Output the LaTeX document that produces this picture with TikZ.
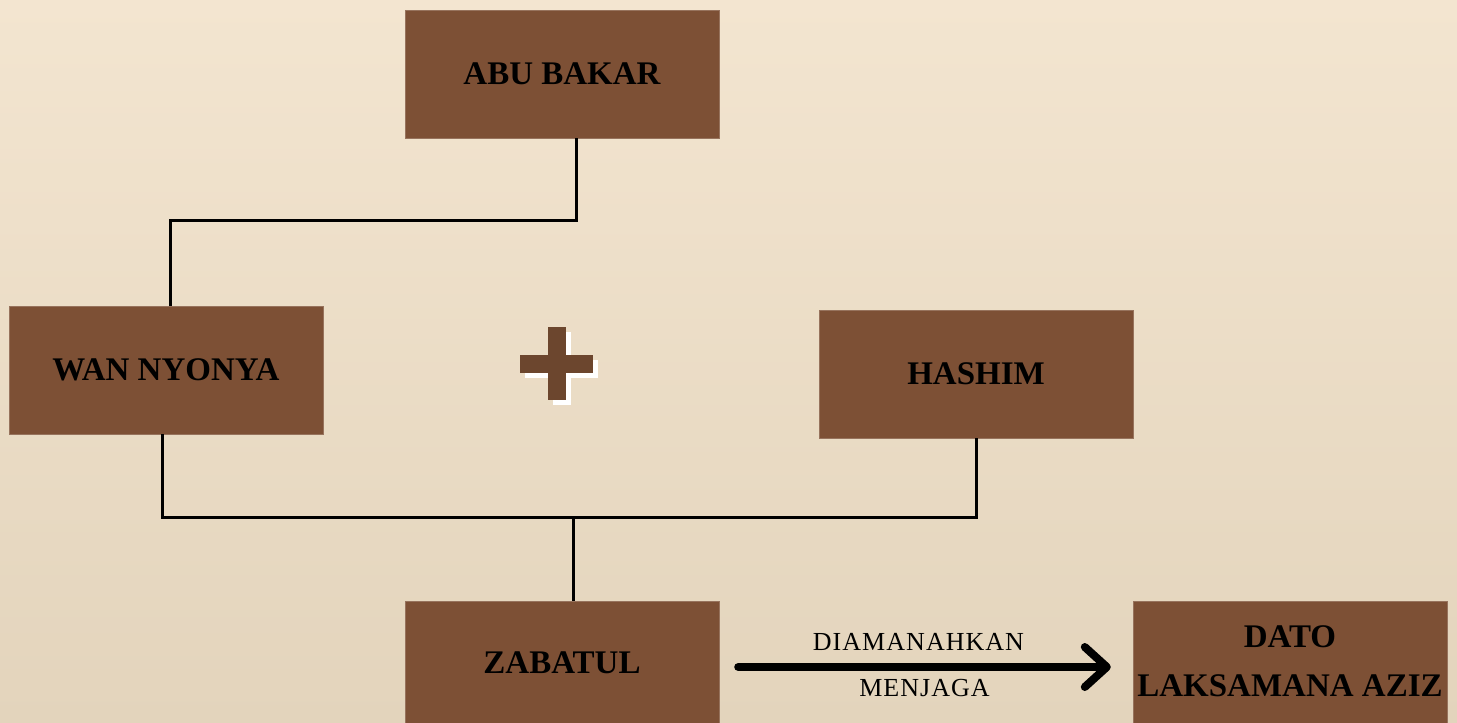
\documentclass[tikz,border=0pt]{standalone}
\usepackage{fontspec}
\setmainfont{Liberation Serif}
\usetikzlibrary{arrows.meta}

\definecolor{fondoarriba}{RGB}{243,229,208}
\definecolor{fondoabajo}{RGB}{227,212,188}
\definecolor{caja}{RGB}{125,80,53}
\definecolor{cruz}{RGB}{108,70,46}

\tikzset{
  persona/.style={fill=caja, draw=caja!80!white, minimum width=314, minimum height=128,
    font=\bfseries\fontsize{33}{36}\selectfont, align=center, inner sep=0pt},
  rama/.style={line width=3pt, black},
  flecha/.style={line width=8pt, line cap=round,
    -{Straight Barb[length=22pt, width=40pt, line cap=round, line join=round]}},
  etiqueta/.style={font=\addfontfeatures{LetterSpace=4}\fontsize{26}{30}\selectfont, inner sep=6pt}
}

\begin{document}
\begin{tikzpicture}[x=1pt, y=-1pt]
			% Fondo
			\useasboundingbox (0,0) rectangle (1457,723);
			\shade[top color=fondoarriba, bottom color=fondoabajo] (0,0) rectangle (1457,723);

			% Dibujar las cajas
			\node[persona] (abu) at (562,74) {ABU BAKAR};
			\node[persona] (wan) at (166,370) {WAN NYONYA};
			\node[persona] (hashim) at (976,374) {HASHIM};
			\node[persona] (zabatul) at (562,665) {\raisebox{4pt}{ZABATUL}};
			\node[persona] (dato) at (1290,665) {\raisebox{4pt}{\begin{tabular}{@{}c@{}}DATO\\[13pt]LAKSAMANA AZIZ\end{tabular}}};

			% Dibujar las ramas
			\coordinate (codo) at (370,220);
			\coordinate (union) at (573,517);
			\draw[rama] ([xshift=14]abu.south) |- (codo) -| ([xshift=4]wan.north);
			\draw[rama] ([xshift=-4]wan.south) |- (union) -| (hashim.south);
			\draw[rama] (union) -- ([xshift=11]zabatul.north);

			% Dibujar el signo mas
			\draw[line width=18pt, white] (525,369) -- (598,369) (562,332) -- (562,405);
			\draw[line width=18pt, cruz] (520,364) -- (593,364) (557,327) -- (557,400);

			% Dibujar la flecha
			\draw[flecha] ([xshift=19,yshift=-2]zabatul.east) -- ([xshift=-22,yshift=-2]dato.west)
			  node[midway, above, etiqueta, yshift=6pt, xshift=-6pt] {DIAMANAHKAN}
			  node[midway, below, etiqueta, yshift=-2pt] {MENJAGA};
		\end{tikzpicture}
\end{document}
